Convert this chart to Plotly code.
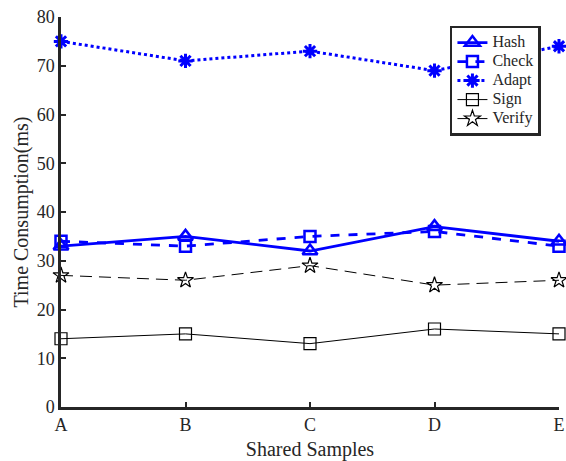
import plotly.graph_objects as go

categories = ["A", "B", "C", "D", "E"]
hash_vals = [33, 35, 32, 37, 34]
check_vals = [34, 33, 35, 36, 33]
adapt_vals = [75, 71, 73, 69, 74]
sign_vals = [14, 15, 13, 16, 15]
verify_vals = [27, 26, 29, 25, 26]
y_ticks = [0, 10, 20, 30, 40, 50, 60, 70, 80]

x = list(range(len(categories)))
BLUE = "#0000ff"
BLACK = "#000000"
FONT = "Liberation Serif"

series = [
    ("Hash", hash_vals, BLUE, 2.8, "solid", "triangle-up-open", 13, 2.5),
    ("Check", check_vals, BLUE, 2.8, "dash", "square-open", 11, 2.5),
    ("Adapt", adapt_vals, BLUE, 3, "dot", "asterisk-open", 12, 3),
    ("Sign", sign_vals, BLACK, 1, "solid", "square-open", 12, 1.2),
    ("Verify", verify_vals, BLACK, 1, "12px,7px", "star-open", 12, 1.2),
]

fig = go.Figure()
for name, vals, color, lw, dash, sym, ms, mlw in series:
    fig.add_trace(go.Scatter(
        x=x, y=vals, name="<span style='font-size:16px'>" + name + "</span>",
        mode="lines+markers",
        line=dict(color=color, width=lw, dash=dash),
        marker=dict(symbol=sym, size=ms, color=color, line=dict(color=color, width=mlw)),
        cliponaxis=False,
    ))

axis_color = "#262626"
fig.update_layout(
    width=566, height=461,
    margin=dict(l=61, r=7, t=12, b=54),
    paper_bgcolor="white", plot_bgcolor="white",
    font=dict(family=FONT, size=18, color=axis_color),
    showlegend=True,
    legend=dict(
        x=0.781, y=0.978, xanchor="left", yanchor="top",
        bgcolor="white", bordercolor=axis_color, borderwidth=2.5,
        font=dict(family=FONT, size=12, color=axis_color),
        tracegroupgap=0, itemwidth=30,
    ),
    xaxis=dict(
        range=[0, 4], tickvals=x, ticktext=categories,
        showgrid=False, zeroline=False, automargin=False,
        showline=True, linecolor=axis_color, linewidth=2.5,
        ticks="inside", ticklen=5, tickcolor=axis_color, tickwidth=1.5,
        title=dict(text="Shared Samples", font=dict(family=FONT, size=20, color=axis_color)),
        tickfont=dict(family=FONT, size=18, color=axis_color),
    ),
    yaxis=dict(
        range=[0, 80], tickvals=y_ticks,
        showgrid=False, zeroline=False,
        showline=True, linecolor=axis_color, linewidth=2.5,
        ticks="inside", ticklen=5, tickcolor=axis_color, tickwidth=1.5,
        title=dict(text="Time Consumption(ms)", font=dict(family=FONT, size=20, color=axis_color), standoff=3),
        tickfont=dict(family=FONT, size=18, color=axis_color),
    ),
)

fig.write_html("out.html")
